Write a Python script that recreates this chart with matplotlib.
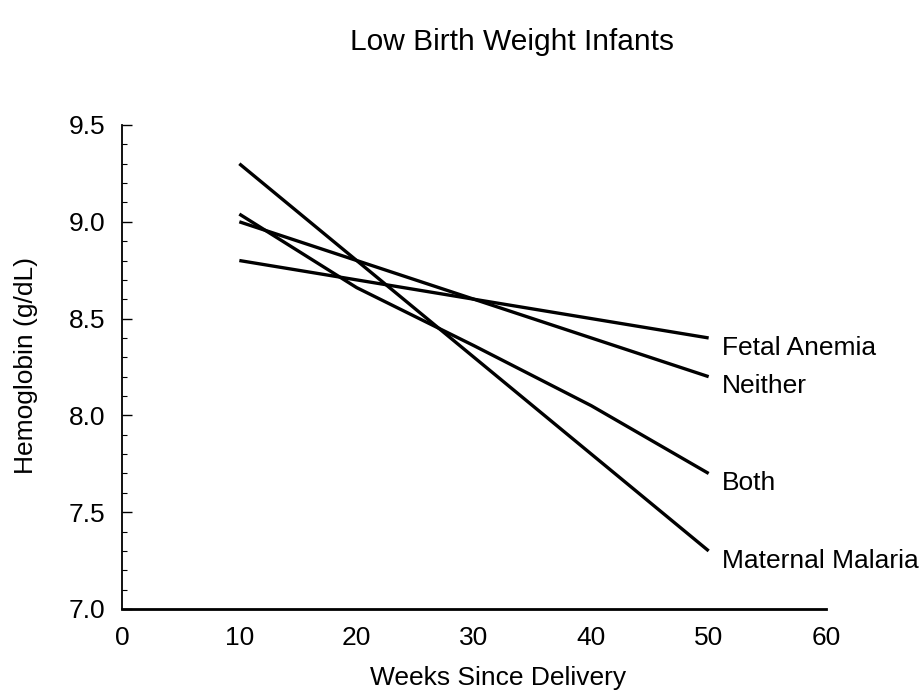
import matplotlib.pyplot as plt
import numpy as np
from matplotlib.ticker import MultipleLocator

plt.rcParams['font.family'] = ['Liberation Sans', 'DejaVu Sans']

# values
weeks = [10, 20, 30, 40, 50]
series_names = ["Fetal Anemia", "Neither", "Both", "Maternal Malaria"]
fetal_anemia = [8.80, 8.70, 8.60, 8.50, 8.40]
neither = [9.00, 8.80, 8.60, 8.40, 8.20]
both = [9.04, 8.66, 8.36, 8.05, 7.70]
maternal_malaria = [9.30, 8.80, 8.30, 7.80, 7.30]

x_ticks = [0, 10, 20, 30, 40, 50, 60]
y_ticks = [7.0, 7.5, 8.0, 8.5, 9.0, 9.5]

fig = plt.figure(figsize=(9.24, 6.92), dpi=100)
ax = fig.add_axes([122 / 924, 1 - 609 / 692, (826 - 122) / 924, (609 - 125) / 692])

for name, vals in zip(series_names, [fetal_anemia, neither, both, maternal_malaria]):
    ax.plot(weeks, vals, color='black', lw=2.4, solid_capstyle='butt')
    ax.text(weeks[-1] + 1.1, vals[-1] - 0.05, name, fontsize=19,
            ha='left', va='center')

ax.set_xlim(0, 60)
ax.set_ylim(7.0, 9.5)
ax.set_xticks(x_ticks)
ax.set_yticks(y_ticks)
ax.set_yticklabels([f"{v:.1f}" for v in y_ticks])
ax.yaxis.set_minor_locator(MultipleLocator(0.1))

for side in ['top', 'right']:
    ax.spines[side].set_visible(False)
ax.spines['left'].set_linewidth(1.3)
ax.spines['bottom'].set_linewidth(2.0)

ax.tick_params(axis='y', which='major', direction='in', length=7, width=1.0,
               labelsize=19, pad=12)
ax.tick_params(axis='y', which='minor', direction='in', length=3.5, width=0.8)
ax.tick_params(axis='x', which='major', length=0, labelsize=19, pad=12)

ax.set_xlabel("Weeks Since Delivery", fontsize=19)
ax.set_ylabel("Hemoglobin (g/dL)", fontsize=19)
# label positions from the reference (axes coords)
ax.xaxis.set_label_coords(0.534, -0.118)
ax.yaxis.set_label_coords(-0.120, 0.504)

fig.text(512 / 924, 1 - 42 / 692, "Low Birth Weight Infants", fontsize=21.5,
         ha='center', va='center')

fig.savefig("out.png", dpi=100)
